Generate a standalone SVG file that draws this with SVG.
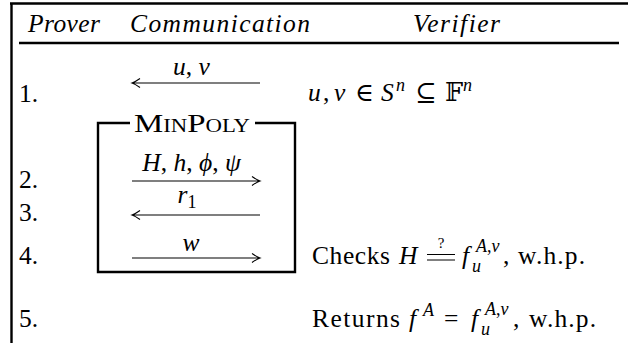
<svg xmlns="http://www.w3.org/2000/svg" width="628" height="343" viewBox="0 0 628 343">
<style>
text{font-family:"Liberation Serif","DejaVu Serif",serif;font-size:25.5px;fill:#000}
.i{font-style:italic}
.s{font-size:18px}
.q{font-size:15px}
.sc{font-variant:small-caps;font-size:26px}
.frame{stroke:#000;stroke-width:2.4;fill:none}
.arr{stroke:#000;stroke-width:1.1;fill:none}
.eq{stroke:#000;stroke-width:1.2;fill:none}
</style>
<rect width="628" height="343" fill="#fff"/>
<g id="table">
<path class="frame" d="M10,3.5H628 M11.5,3V343 M19,43H619"/>
<text class="i" x="28" y="32" textLength="72" font-family="Liberation Serif, serif">Prover</text>
<text class="i" x="130" y="32" textLength="180" font-family="Liberation Serif, serif">Communication</text>
<text class="i" x="413" y="32" textLength="87" font-family="Liberation Serif, serif">Verifier</text>
</g>
<g id="steps" font-family="Liberation Serif, serif">
<text x="19" y="102">1.</text>
<text x="19" y="188">2.</text>
<text x="19" y="221">3.</text>
<text x="19" y="264">4.</text>
<text x="19" y="327">5.</text>
</g>
<g id="minpoly">
<path class="frame" d="M130,123H98V272H295V123H255"/>
<text class="sc" x="192" y="132" text-anchor="middle" textLength="116" lengthAdjust="spacingAndGlyphs">MinPoly</text>
</g>
<g id="connectors">
<path class="arr" d="M132,83H260 M140,78.5Q135,82 132,83Q135,84 140,87.5"/>
<path class="arr" d="M132,181H260 M252,176.5Q257,180 260,181Q257,182 252,185.5"/>
<path class="arr" d="M132,215H260 M140,210.5Q135,214 132,215Q135,216 140,219.5"/>
<path class="arr" d="M132,258H260 M252,253.5Q257,257 260,258Q257,259 252,262.5"/>
<text x="191.5" y="75" text-anchor="middle"><tspan class="i">u</tspan>, <tspan class="i">v</tspan></text>
<text x="191.5" y="171" text-anchor="middle"><tspan class="i">H</tspan>, <tspan class="i">h</tspan>, <tspan class="i">ϕ</tspan>, <tspan class="i">ψ</tspan></text>
<text x="187" y="203" text-anchor="middle"><tspan class="i">r</tspan><tspan class="s" dy="5">1</tspan></text>
<text x="191" y="251" text-anchor="middle" class="i">w</text>
</g>
<g id="verifier">
<text y="101"><tspan class="i" x="308">u</tspan><tspan x="323">,</tspan><tspan class="i" x="334">v</tspan><tspan x="355">∈</tspan><tspan class="i" x="381">S</tspan><tspan class="i s" x="396" y="91">n</tspan><tspan x="415" y="101">⊆</tspan><tspan x="445">𝔽</tspan><tspan class="i s" x="463" y="91">n</tspan></text>
<text y="264"><tspan x="312" textLength="78">Checks</tspan><tspan class="i" x="399">H</tspan><tspan class="i" x="462">f</tspan><tspan class="i s" x="476" y="252">A</tspan><tspan class="s" y="252">,</tspan><tspan class="i s" y="252">v</tspan><tspan x="503" y="264">,</tspan><tspan x="518" textLength="67">w.h.p.</tspan></text>
<text class="i s" x="472" y="272">u</text>
<text class="q" x="441" y="248" text-anchor="middle">?</text>
<path class="eq" d="M427,254.5H455 M427,260H455"/>
<text y="327"><tspan x="312" textLength="88">Returns</tspan><tspan class="i" x="409">f</tspan><tspan class="i s" x="423" y="316">A</tspan><tspan x="444" y="327">=</tspan><tspan class="i" x="471">f</tspan><tspan class="i s" x="485" y="315">A</tspan><tspan class="s" y="315">,</tspan><tspan class="i s" y="315">v</tspan><tspan x="513" y="327">,</tspan><tspan x="529" textLength="67">w.h.p.</tspan></text>
<text class="i s" x="481" y="335">u</text>
</g>
</svg>
